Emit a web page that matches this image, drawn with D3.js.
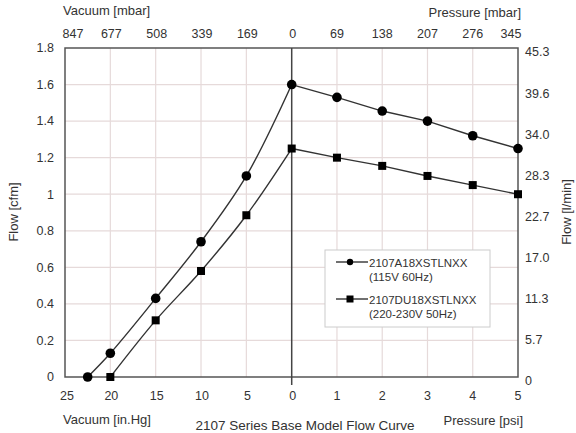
<html>
<head>
  <script src="https://d3js.org/d3.v7.min.js"></script>
  <style>
    body { margin: 0; background: #fff; }
    text { font-family: "Liberation Sans", Arial, sans-serif; fill: #333; }
  </style>
</head>
<body>
  <svg id="chart" width="576" height="433"></svg>
  <script>
    // tick labels
    const vacTicks = [25, 20, 15, 10, 5, 0];
    const psiTicks = [0, 1, 2, 3, 4, 5];
    const vacMbar = ["847", "677", "508", "339", "169", "0"];
    const psiMbar = ["0", "69", "138", "207", "276", "345"];
    const cfmTicks = [0, 0.2, 0.4, 0.6, 0.8, 1, 1.2, 1.4, 1.6, 1.8];
    const lpmTicks = ["0", "5.7", "11.3", "17.0", "22.7", "28.3", "34.0", "39.6", "45.3"];

    // series: 2107A18XSTLNXX (circles)
    const vacA = [22.5, 20, 15, 10, 5, 0];
    const vacAFlow = [0, 0.13, 0.43, 0.74, 1.10, 1.60];
    const psiA = [1, 2, 3, 4, 5];
    const psiAFlow = [1.53, 1.455, 1.40, 1.32, 1.25];

    // series: 2107DU18XSTLNXX (squares)
    const vacB = [20, 15, 10, 5, 0];
    const vacBFlow = [0, 0.31, 0.58, 0.885, 1.25];
    const psiB = [1, 2, 3, 4, 5];
    const psiBFlow = [1.20, 1.155, 1.10, 1.05, 1.00];

    const legendNames = [["2107A18XSTLNXX", "(115V 60Hz)"], ["2107DU18XSTLNXX", "(220-230V 50Hz)"]];

    const svg = d3.select("#chart");
    const pl = 65, pr = 518, pt = 48, pb = 377, mid = 291.7;

    const xVac = d3.scaleLinear().domain([25, 0]).range([pl, mid]);
    const xPsi = d3.scaleLinear().domain([0, 5]).range([mid, pr]);
    const y = d3.scaleLinear().domain([0, 1.8]).range([pb, pt]);
    const yR = d3.scaleLinear().domain([0, lpmTicks.length - 1]).range([pb, pt]);

    // grid
    const grid = svg.append("g").attr("stroke", "#e6dada").attr("stroke-width", 1.2);
    grid.selectAll(".gy").data(cfmTicks.slice(1, -1)).enter().append("line")
      .attr("x1", pl).attr("x2", pr).attr("y1", d => y(d)).attr("y2", d => y(d));
    grid.selectAll(".gv").data(vacTicks.slice(1, -1)).enter().append("line")
      .attr("x1", d => xVac(d)).attr("x2", d => xVac(d)).attr("y1", pt).attr("y2", pb);
    grid.selectAll(".gp").data(psiTicks.slice(1, -1)).enter().append("line")
      .attr("x1", d => xPsi(d)).attr("x2", d => xPsi(d)).attr("y1", pt).attr("y2", pb);

    // frame + zero line
    svg.append("rect").attr("x", pl).attr("y", pt).attr("width", pr - pl).attr("height", pb - pt)
      .attr("fill", "none").attr("stroke", "#555").attr("stroke-width", 1.5);
    svg.append("line").attr("x1", mid).attr("x2", mid).attr("y1", pt).attr("y2", pb + 8)
      .attr("stroke", "#444").attr("stroke-width", 1.5);

    const fs = 12.5, ft = 13;
    // left axis labels
    svg.selectAll(".yl").data(cfmTicks).enter().append("text")
      .attr("x", 54).attr("y", d => y(d)).attr("dy", "0.35em").attr("text-anchor", "end")
      .style("font-size", fs).text(d => d);
    // right axis labels
    svg.selectAll(".yr").data(lpmTicks).enter().append("text")
      .attr("x", 525).attr("y", (d, i) => yR(i) + 4).attr("dy", "0.35em")
      .style("font-size", fs).text(d => d);
    // bottom labels
    svg.selectAll(".bv").data(vacTicks).enter().append("text")
      .attr("x", d => xVac(d) + (d === 25 ? 2 : 1)).attr("y", 396).attr("dy", "0.35em").attr("text-anchor", "middle")
      .style("font-size", fs).text(d => d);
    svg.selectAll(".bp").data(psiTicks.slice(1)).enter().append("text")
      .attr("x", d => xPsi(d)).attr("y", 396).attr("dy", "0.35em").attr("text-anchor", "middle")
      .style("font-size", fs).text(d => d);
    // top labels
    svg.selectAll(".tv").data(vacMbar).enter().append("text")
      .attr("x", (d, i) => i === 0 ? xVac(vacTicks[i]) + 8 : xVac(vacTicks[i]) + 1).attr("y", 34).attr("dy", "0.35em")
      .attr("text-anchor", "middle").style("font-size", fs).text(d => d);
    svg.selectAll(".tp").data(psiMbar.slice(1)).enter().append("text")
      .attr("x", (d, i) => i === 4 ? xPsi(psiTicks[i + 1]) - 7 : xPsi(psiTicks[i + 1])).attr("y", 34).attr("dy", "0.35em")
      .attr("text-anchor", "middle").style("font-size", fs).text(d => d);

    // axis titles
    svg.append("text").attr("x", 63).attr("y", 10).attr("dy", "0.35em").style("font-size", ft).text("Vacuum [mbar]");
    svg.append("text").attr("x", 521).attr("y", 12).attr("dy", "0.35em").attr("text-anchor", "end").style("font-size", ft).text("Pressure [mbar]");
    svg.append("text").attr("x", 63).attr("y", 419).attr("dy", "0.35em").style("font-size", ft).text("Vacuum [in.Hg]");
    svg.append("text").attr("x", 523).attr("y", 420).attr("dy", "0.35em").attr("text-anchor", "end").style("font-size", ft).text("Pressure [psi]");
    svg.append("text").attr("transform", "translate(13,212) rotate(-90)").attr("dy", "0.35em")
      .attr("text-anchor", "middle").style("font-size", ft).text("Flow [cfm]");
    svg.append("text").attr("transform", "translate(566,212) rotate(-90)").attr("dy", "0.35em")
      .attr("text-anchor", "middle").style("font-size", ft).text("Flow [l/min]");
    svg.append("text").attr("x", 305).attr("y", 425).attr("dy", "0.35em").attr("text-anchor", "middle")
      .style("font-size", 13.5).text("2107 Series Base Model Flow Curve");

    // series
    function pts(vx, vy, px, py) {
      return vx.map((d, i) => [xVac(d), y(vy[i])]).concat(px.map((d, i) => [xPsi(d), y(py[i])]));
    }
    const series = [
      { p: pts(vacA, vacAFlow, psiA, psiAFlow), nv: vacA.length, shape: "circle" },
      { p: pts(vacB, vacBFlow, psiB, psiBFlow), nv: vacB.length, shape: "square" }
    ];
    const curveVac = d3.line().curve(d3.curveCatmullRom.alpha(0.5));
    const lin = d3.line();

    series.forEach(s => {
      svg.append("path").attr("d", curveVac(s.p.slice(0, s.nv))).attr("fill", "none")
        .attr("stroke", "#333").attr("stroke-width", 1.4);
      svg.append("path").attr("d", lin(s.p.slice(s.nv - 1))).attr("fill", "none")
        .attr("stroke", "#333").attr("stroke-width", 1.4);
      if (s.shape === "circle") {
        svg.selectAll(null).data(s.p).enter().append("circle")
          .attr("cx", d => d[0]).attr("cy", d => d[1]).attr("r", 4.8).attr("fill", "#000");
      } else {
        svg.selectAll(null).data(s.p).enter().append("rect")
          .attr("x", d => d[0] - 4).attr("y", d => d[1] - 4).attr("width", 8).attr("height", 8).attr("fill", "#000");
      }
    });

    // legend
    const lg = svg.append("g");
    lg.append("rect").attr("x", 325).attr("y", 250).attr("width", 165).attr("height", 77)
      .attr("fill", "#fff").attr("stroke", "#ccc");
    legendNames.forEach((n, i) => {
      const yy = 262 + i * 37;
      lg.append("line").attr("x1", 336).attr("x2", 368).attr("y1", yy).attr("y2", yy).attr("stroke", "#333").attr("stroke-width", 1.4);
      if (i === 0) lg.append("circle").attr("cx", 350).attr("cy", yy).attr("r", 3.2).attr("fill", "#000");
      else lg.append("rect").attr("x", 346.5).attr("y", yy - 3.5).attr("width", 7).attr("height", 7).attr("fill", "#000");
      lg.append("text").attr("x", 369).attr("y", yy + 1).attr("dy", "0.35em").style("font-size", 11.5).text(n[0]);
      lg.append("text").attr("x", 369).attr("y", yy + 15).attr("dy", "0.35em").style("font-size", 11.5).text(n[1]);
    });
  </script>
</body>
</html>
